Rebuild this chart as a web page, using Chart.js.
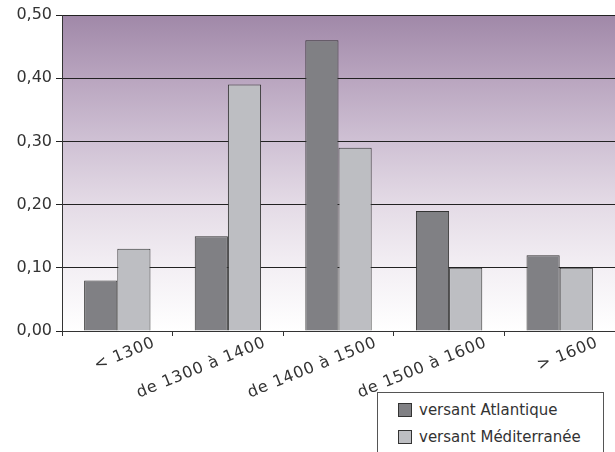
<!DOCTYPE html>
<html lang="fr">
<head>
  <meta charset="UTF-8" />
  <title>Versants</title>
  <script src="https://cdn.jsdelivr.net/npm/chart.js"></script>
  <style>
    body { margin: 0; background: #fff; }
    #wrap { position: relative; width: 615px; height: 452px; overflow: hidden; }
    #legende {
      position: absolute; left: 377px; top: 392px; width: 225px; height: 80px;
      border: 1px solid #555; background: #fff;
      font-family: "DejaVu Sans", sans-serif; font-size: 15px; color: #333;
    }
    .item { position: absolute; left: 20px; display: flex; align-items: center; }
    .item span.sw { width: 12px; height: 12px; border: 1px solid #333; margin-right: 7px; }
    .etiq {
      position: absolute; white-space: nowrap; line-height: 1;
      font-family: "DejaVu Sans", sans-serif; font-size: 16px; letter-spacing: 0.8px; color: #333;
      transform-origin: 100% 0; transform: rotate(-22deg);
    }
  </style>
</head>
<body>
  <div id="wrap">
    <canvas id="graphe" width="615" height="452"></canvas>
    <div id="legende"></div>
  </div>

  <script>
    // données
    const periodes = ['< 1300', 'de 1300 à 1400', 'de 1400 à 1500', 'de 1500 à 1600', '> 1600'];
    const atlantique = [0.08, 0.15, 0.46, 0.19, 0.12];
    const mediterranee = [0.13, 0.39, 0.29, 0.10, 0.10];
    const ticksY = [0, 0.1, 0.2, 0.3, 0.4, 0.5];

    const couleurs = ['#808084', '#bdbec2'];
    const noms = ['versant Atlantique', 'versant Méditerranée'];

    // fond dégradé violet
    const fond = {
      id: 'fond',
      beforeDraw(chart) {
        const { ctx, chartArea: a } = chart;
        const g = ctx.createLinearGradient(0, a.top, 0, a.bottom);
        g.addColorStop(0, '#a088a8');
        g.addColorStop(0.2, '#b9a5bf');
        g.addColorStop(0.4, '#cfc1d4');
        g.addColorStop(0.6, '#e4dbe6');
        g.addColorStop(0.8, '#f3eff4');
        g.addColorStop(1, '#ffffff');
        ctx.save();
        ctx.fillStyle = g;
        ctx.fillRect(a.left, a.top, a.right - a.left, a.bottom - a.top);
        ctx.restore();
      }
    };

    const police = { family: '"DejaVu Sans", sans-serif', size: 16 };

    const chart = new Chart(document.getElementById('graphe'), {
      type: 'bar',
      data: {
        labels: periodes,
        datasets: [
          { label: noms[0], data: atlantique, backgroundColor: couleurs[0], borderColor: '#333', borderWidth: 1 },
          { label: noms[1], data: mediterranee, backgroundColor: couleurs[1], borderColor: '#333', borderWidth: 1 }
        ]
      },
      options: {
        responsive: false,
        animation: false,
        layout: { padding: { top: 15, right: 0, left: 0, bottom: 0 } },
        datasets: { bar: { categoryPercentage: 0.6, barPercentage: 1 } },
        plugins: { legend: { display: false }, tooltip: { enabled: false } },
        scales: {
          x: {
            grid: { offset: true, drawOnChartArea: false, drawTicks: true, tickLength: 5, color: '#333' },
            border: { color: '#333', width: 1 },
            ticks: { display: false },
            afterFit(s) { s.height = 121; }
          },
          y: {
            min: 0, max: 0.5,
            afterBuildTicks(s) { s.ticks = ticksY.map(v => ({ value: v })); },
            grid: { color: '#222', tickLength: 6, lineWidth: 1 },
            border: { color: '#333', width: 1 },
            ticks: {
              color: '#333', font: police, padding: 4,
              callback: v => v.toFixed(2).replace('.', ',')
            },
            afterFit(s) { s.width = 62; }
          }
        }
      },
      plugins: [fond]
    });

    // étiquettes de l'axe x, inclinées (placées avec l'échelle x)
    const wrap = document.getElementById('wrap');
    const sx = chart.scales.x;
    periodes.forEach((p, i) => {
      const e = document.createElement('div');
      e.className = 'etiq';
      e.textContent = p;
      e.style.right = (615 - (sx.getPixelForValue(i) + 34)) + 'px';
      e.style.top = (sx.top + 3) + 'px';
      wrap.appendChild(e);
    });

    // légende
    const leg = document.getElementById('legende');
    noms.forEach((n, i) => {
      const d = document.createElement('div');
      d.className = 'item';
      d.style.top = (8 + i * 27) + 'px';
      d.innerHTML = '<span class="sw" style="background:' + couleurs[i] + '"></span>' + n;
      leg.appendChild(d);
    });
  </script>
</body>
</html>
